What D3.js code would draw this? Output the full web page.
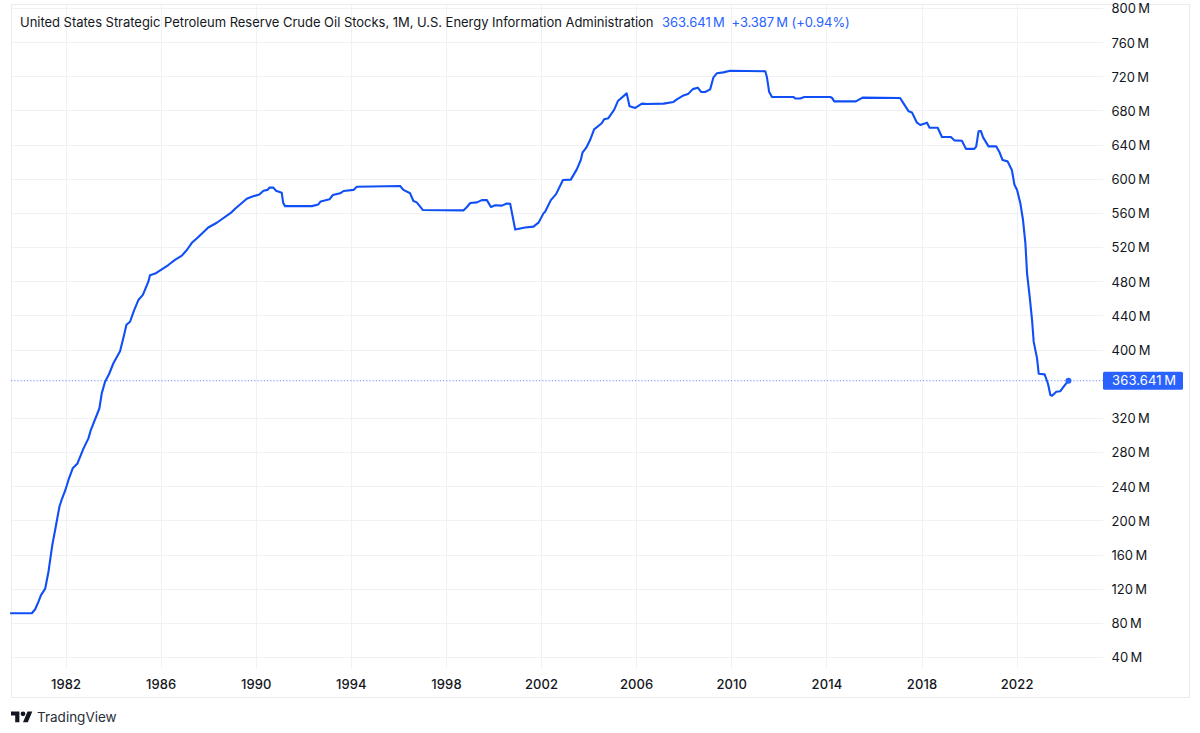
<!DOCTYPE html>
<html><head><meta charset="utf-8">
<script src="https://cdn.jsdelivr.net/npm/d3@7"></script>
<style>
html,body{margin:0;padding:0;background:#fff}
svg{display:block}
text{font-family:Inter,"Noto Sans",sans-serif}
</style></head><body>
<svg id="c" width="1200" height="733"></svg>
<script>
const titleText = "United States Strategic Petroleum Reserve Crude Oil Stocks, 1M, U.S. Energy Information Administration";
const lastLabel = "363.641\u2009M";
const changeLabel = "+3.387\u2009M (+0.94%)";
const brandLabel = "TradingView";
const yearTicks = [1982,1986,1990,1994,1998,2002,2006,2010,2014,2018,2022];
const valueTicks = [40,80,120,160,200,240,280,320,400,440,480,520,560,600,640,680,720,760,800];
const lastValue = 363.641;
const years = [1979.7,1980.58,1980.72,1980.86,1980.96,1981.14,1981.28,1981.44,1981.56,1981.74,1981.84,1981.98,1982.12,1982.3,1982.5,1982.75,1982.96,1983.06,1983.42,1983.52,1983.66,1983.83,1984.01,1984.29,1984.46,1984.56,1984.71,1984.88,1985.06,1985.25,1985.48,1985.55,1985.77,1986.32,1986.6,1986.89,1987.1,1987.31,1987.55,1988.0,1988.36,1988.99,1989.13,1989.62,1989.83,1990.15,1990.32,1990.5,1990.57,1990.74,1990.85,1991.09,1991.15,1991.23,1992.36,1992.63,1992.73,1993.1,1993.24,1993.55,1993.69,1994.11,1994.25,1996.07,1996.21,1996.49,1996.63,1996.77,1997.03,1998.73,1998.88,1999.02,1999.3,1999.51,1999.72,1999.89,2000.07,2000.35,2000.56,2000.7,2000.91,2001.33,2001.68,2001.89,2002.1,2002.17,2002.41,2002.63,2002.92,2003.25,2003.5,2003.67,2003.74,2003.9,2004.06,2004.23,2004.55,2004.65,2004.83,2005.07,2005.23,2005.6,2005.72,2005.96,2006.24,2006.45,2007.15,2007.57,2007.71,2007.99,2008.2,2008.38,2008.59,2008.73,2008.9,2009.11,2009.25,2009.39,2009.67,2009.95,2011.43,2011.5,2011.59,2011.71,2012.62,2012.69,2012.9,2013.07,2014.16,2014.23,2014.33,2015.24,2015.52,2017.1,2017.25,2017.46,2017.6,2017.81,2017.95,2018.23,2018.34,2018.68,2018.86,2019.24,2019.38,2019.7,2019.87,2020.22,2020.3,2020.4,2020.5,2020.59,2020.82,2021.14,2021.27,2021.41,2021.62,2021.8,2021.91,2022.02,2022.16,2022.27,2022.37,2022.44,2022.55,2022.65,2022.72,2022.86,2022.93,2023.18,2023.32,2023.42,2023.49,2023.67,2023.84,2023.98,2024.18];
const stocks = [91.2,91.2,95.9,104.8,112.2,120,139.9,171,188.7,216,224.7,234.7,247.3,261,266.7,284,296,305.8,331,348.7,362.4,371.4,384,398,417,429,432.6,446,458,464,479.5,487,489,499,505,510,516.6,525,531,543,548.5,561,565,576.6,579,581.7,586,587,589.6,589.6,586,583.7,572,568,568,570,573.5,576,581,583,585.7,587,590.7,591.5,587,583,574,572.4,563.4,563,567,571.6,572.4,575,575,567,569,568.6,571,570.6,540.6,543,544,548.6,559.5,561.5,575,582,598.6,599,611,622,630.6,636.4,645.4,657.9,665,669.6,671,680.6,691,700,685,683,688,687.6,688,690,693,697.6,699.7,705,706.7,701.7,701.7,704.7,718.8,723.5,724.6,726.5,726,718.8,702,695.8,695.8,694,694,695.8,695.8,695,690.6,690.6,695,694.6,688,679,677.6,665.7,663,665.7,659.8,659.8,649,649,645,644.6,635,635,637.6,655.6,656,648.5,638,638,631.7,622,620.4,610.4,593,586.8,571,551.7,524.4,489,462,434.6,409,389.7,371.7,371,360,346.8,346,350.6,351.3,356.5,363.641];

const BLUE = "#0f4ff5", TAG = "#2962ff", GRID = "#f0f1f5", BORDER = "#e9ebf0", INK = "#131722";
const L = 11, R = 1103, FR = 1189, T = 4.5, B = 697.5, AXB = 668;

const x = d3.scaleLinear().domain([1982,2022]).range([65.6,1016.6]);
const y = d3.scaleLinear().domain([40,800]).range([657,8]);
const svg = d3.select("#c");

// vertical grid
svg.append("g").selectAll("line").data(yearTicks).join("line")
  .attr("x1",d=>Math.round(x(d))+.5).attr("x2",d=>Math.round(x(d))+.5)
  .attr("y1",T).attr("y2",AXB).attr("stroke",GRID);
// horizontal grid
svg.append("g").selectAll("line").data(valueTicks).join("line")
  .attr("x1",L).attr("x2",R)
  .attr("y1",d=>Math.round(y(d))+.5).attr("y2",d=>Math.round(y(d))+.5)
  .attr("stroke",GRID);
// frame
svg.append("rect").attr("x",L+.5).attr("y",T).attr("width",FR-L).attr("height",B-T)
  .attr("fill","none").attr("stroke",BORDER);

// axes
const gx = svg.append("g").attr("transform",`translate(0,${AXB})`)
  .call(d3.axisBottom(x).tickValues(yearTicks).tickFormat(d3.format("d")).tickSize(0).tickPadding(0));
gx.select(".domain").remove();
gx.selectAll("text").attr("y",16).attr("dy","0.35em")
  .attr("font-size",13).attr("font-weight",500).attr("fill",INK)
  .style("font-family","Inter,sans-serif").style("letter-spacing","0.1px");

const gy = svg.append("g").attr("transform",`translate(1111.5,0.7)`)
  .call(d3.axisRight(y).tickValues(valueTicks).tickFormat(d=>d+"\u2009M").tickSize(0).tickPadding(0));
gy.select(".domain").remove();
gy.selectAll("text").attr("font-size",13).attr("fill",INK).style("font-family","Inter,sans-serif");

// last value dotted line
svg.append("line").attr("x1",L).attr("x2",R)
  .attr("y1",y(lastValue)).attr("y2",y(lastValue))
  .attr("stroke",TAG).attr("stroke-opacity",.55).attr("stroke-width",1.2).attr("stroke-dasharray","1.2 2");

// series
const pts = years.map((d,i)=>[d,stocks[i]]);
svg.append("path").datum(pts)
  .attr("d",d3.line().x(d=>x(d[0])).y(d=>y(d[1])))
  .attr("fill","none").attr("stroke",BLUE).attr("stroke-width",2.1)
  .attr("stroke-linejoin","round").attr("stroke-linecap","round");
svg.append("circle").attr("cx",x(years[years.length-1])).attr("cy",y(lastValue)).attr("r",3).attr("fill",TAG);

// price tag
const ly = y(lastValue);
svg.append("rect").attr("x",R).attr("y",ly-9).attr("width",80).attr("height",18).attr("rx",1.5).attr("fill",TAG);
svg.append("text").attr("x",1112).attr("y",ly).attr("dy","0.35em").attr("font-size",13)
  .attr("fill","#fff").style("letter-spacing","0.15px").text(lastLabel);

// legend
svg.append("text").attr("x",20).attr("y",22).attr("dy","0.35em").attr("font-size",13).attr("fill",INK)
  .style("letter-spacing","-0.03px").text(titleText);
svg.append("text").attr("x",662).attr("y",22).attr("dy","0.35em").attr("font-size",13).attr("fill",TAG).text(lastLabel);
svg.append("text").attr("x",731.5).attr("y",22).attr("dy","0.35em").attr("font-size",13).attr("fill",TAG)
  .style("letter-spacing","-0.08px").text(changeLabel);

// brand
const logo = svg.append("g").attr("transform","translate(11,709) scale(0.6)").attr("fill","#131722");
logo.append("path").attr("d","M14 22H7V11H0V4h14v18zM28 22h-8l7.5-18h8L28 22z");
logo.append("circle").attr("cx",20).attr("cy",8).attr("r",4);
svg.append("text").attr("x",37).attr("y",717).attr("dy","0.35em").attr("font-size",13.5).attr("fill","#2a2e39").text(brandLabel);
</script>
</body></html>
